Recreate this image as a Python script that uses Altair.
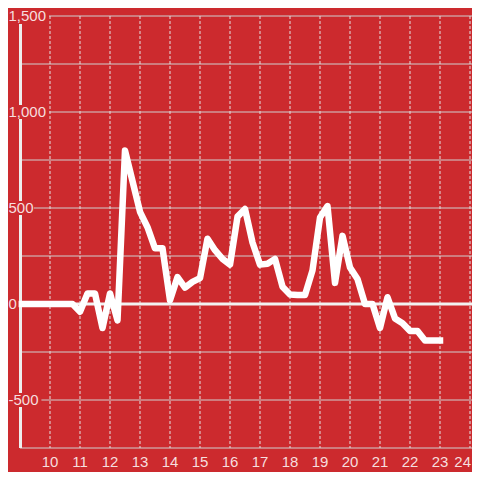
import altair as alt
import pandas as pd

# data (quarter-hour steps from 9:00 to 23:00)
hours = [9.0 + 0.25 * i for i in range(57)]
values = [0, 0, 0, 0, 0, 0, 0, 0,
          -40, 55, 55, -125, 55, -85,
          800, 640, 480, 400, 290, 290,
          20, 140, 85, 115, 135,
          340, 280, 235, 205,
          455, 495, 320, 205,
          210, 235, 90, 50,
          47, 47, 175, 450,
          510, 110, 355, 190,
          130, 0, 0, -125,
          35, -75, -100, -140,
          -140, -190, -190, -190]

y_grid = [-750, -500, -250, 0, 250, 500, 750, 1000, 1250, 1500]
x_ticks = [10, 11, 12, 13, 14, 15, 16, 17, 18, 19, 20, 21, 22, 23, 24]
x_tick_labels = [str(t) for t in x_ticks]
y_label_values = [1500, 1000, 500, 0, -500]
y_label_texts = ["1,500", "1,000", "500", "0", "-500"]

W, H = 452, 432
BG = "#CC2A2E"
LABEL = "#F6DEDF"

xs = alt.Scale(domain=[9, 9 + W / 30], nice=False, zero=False)
ys = alt.Scale(domain=[-750, 1500], nice=False, zero=False)

df = pd.DataFrame({"h": hours, "v": values})
grid_df = pd.DataFrame({"g": y_grid})
xt_df = pd.DataFrame({"t": x_ticks, "lab": x_tick_labels})
yl_df = pd.DataFrame({"v": y_label_values, "lab": y_label_texts})
zero_df = pd.DataFrame({"z": [0]})

hgrid = alt.Chart(grid_df).mark_rule(color="#CFCFCF", strokeWidth=1).encode(
    y=alt.Y("g:Q", scale=ys, axis=None),
    x=alt.value(0), x2=alt.value(W),
)

vgrid = alt.Chart(xt_df).mark_rule(color="#E2E2E2", strokeWidth=1, strokeDash=[3, 2]).encode(
    x=alt.X("t:Q", scale=xs, axis=None),
    y=alt.value(0), y2=alt.value(H),
)

axis_line = alt.Chart(zero_df).mark_rule(color="#EEEEEE", strokeWidth=3).encode(
    x=alt.value(0.5), y=alt.value(8), y2=alt.value(H),
)

zero_line = alt.Chart(zero_df).mark_rule(color="#F2F2F2", strokeWidth=3).encode(
    y=alt.Y("z:Q", scale=ys, axis=None),
    x=alt.value(-2), x2=alt.value(W),
)

line = alt.Chart(df).mark_line(
    color="#FFFFFF", strokeWidth=6.5, strokeCap="square", strokeJoin="round"
).encode(
    x=alt.X("h:Q", scale=xs, axis=None),
    y=alt.Y("v:Q", scale=ys, axis=None),
)

boxes = alt.Chart(yl_df).transform_calculate(
    bx="9 - 12/30",
    bx2="9 + (-9 + length(datum.lab) * 7.6) / 30",
).mark_rule(color=BG, strokeWidth=14, strokeCap="butt").encode(
    x=alt.X("bx:Q", scale=xs, axis=None),
    x2="bx2:Q",
    y=alt.Y("v:Q", scale=ys, axis=None),
)

ylabels = alt.Chart(yl_df).mark_text(
    align="left", baseline="middle", font="Liberation Sans", fontSize=15, color=LABEL
).encode(
    x=alt.value(-11.5),
    y=alt.Y("v:Q", scale=ys, axis=None),
    text="lab:N",
)

xlabels = alt.Chart(xt_df).transform_filter("datum.t < 24").mark_text(
    align="center", baseline="middle", font="Liberation Sans", fontSize=15, color=LABEL
).encode(
    x=alt.X("t:Q", scale=xs, axis=None),
    y=alt.value(H + 14),
    text="lab:N",
)

xlabel_last = alt.Chart(xt_df).transform_filter("datum.t >= 24").mark_text(
    align="right", baseline="middle", font="Liberation Sans", fontSize=15, color=LABEL, dx=1
).encode(
    x=alt.X("t:Q", scale=xs, axis=None),
    y=alt.value(H + 14),
    text="lab:N",
)

chart = alt.layer(hgrid, vgrid, zero_line, axis_line, line, boxes, ylabels, xlabels, xlabel_last).properties(
    width=W, height=H,
    background=BG,
    autosize=alt.AutoSizeParams(type="none"),
    padding={"left": 12, "top": 8, "right": 0, "bottom": 24},
).configure_view(stroke=None)

chart.save("out.html", embed_options={"renderer": "svg", "actions": False})
